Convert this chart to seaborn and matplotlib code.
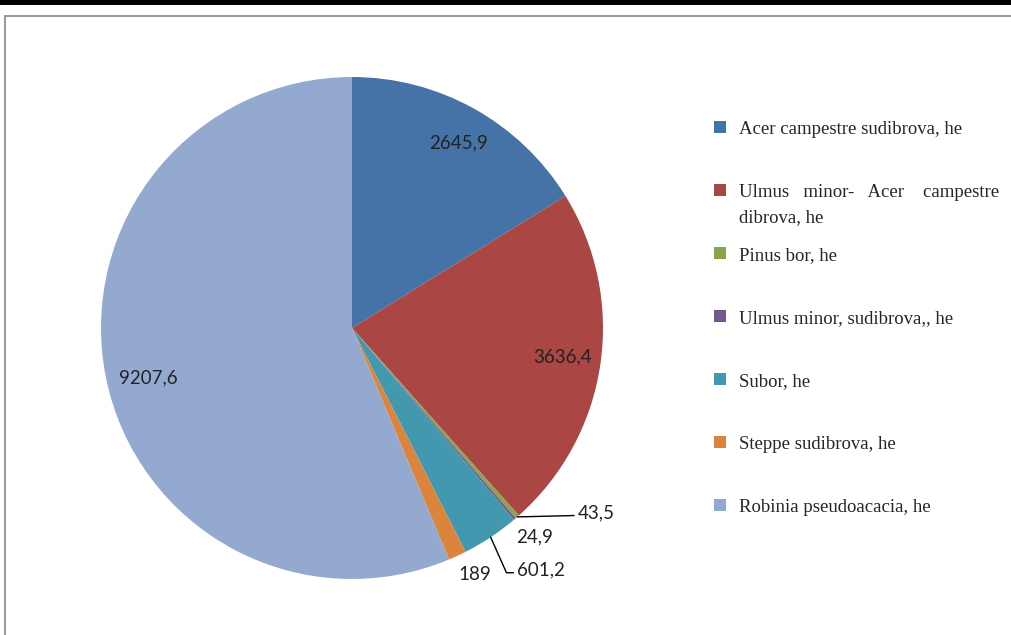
import matplotlib
matplotlib.use("Agg")
import matplotlib.pyplot as plt
import matplotlib.patches as mpatches
from matplotlib.lines import Line2D
import numpy as np
import seaborn as sns

# data
categories = [
    "Acer campestre sudibrova, he",
    "Ulmus   minor-   Acer    campestre",
    "Pinus bor, he",
    "Ulmus minor, sudibrova,, he",
    "Subor, he",
    "Steppe sudibrova, he",
    "Robinia pseudoacacia, he",
]
wrapped = {1: "dibrova, he"}  # second line of the long legend entry
values = [2645.9, 3636.4, 43.5, 24.9, 601.2, 189, 9207.6]
value_labels = ["2645,9", "3636,4", "43,5", "24,9", "601,2", "189", "9207,6"]
colors = ["#4572A7", "#AA4643", "#89A54E", "#71588F", "#4198AF", "#DB843D", "#93A9CF"]

sns.set_style("white")
plt.rcParams["font.family"] = ["Lato", "DejaVu Sans"]

W, H = 1011, 635
fig = plt.figure(figsize=(W / 100, H / 100), dpi=100)

# pie axes: centre (352, 328) px, radius 251 px
cx, cy, r = 352, 328, 251
ax = fig.add_axes([(cx - r) / W, (H - cy - r) / H, 2 * r / W, 2 * r / H])
wedges, _ = ax.pie(values, colors=colors, startangle=90, counterclock=False,
                   radius=1, wedgeprops=dict(linewidth=0))
ax.set_xlim(-1, 1)
ax.set_ylim(-1, 1)
ax.set_aspect("equal")
ax.axis("off")

# label offsets (pixels) from the outer middle point of each wedge
offsets = [(-16, -34), (-38, 7), (60, 4), (20, -18), (26, -33), (17, -19), (42, 0)]
leaders = [None, None, "straight", None, "bent", None, None]

for w, lab, off, lead in zip(wedges, value_labels, offsets, leaders):
    ang = np.deg2rad((w.theta1 + w.theta2) / 2)
    xy = (np.cos(ang), np.sin(ang))
    if lead is None:
        ax.annotate(lab, xy=xy, xytext=off, textcoords="offset pixels",
                    ha="center", va="center", fontsize=13.5, color="#222222")
    else:
        cs = "arc3" if lead == "straight" else "angle,angleA=0,angleB=114,rad=0"
        ax.annotate(lab, xy=xy, xytext=off, textcoords="offset pixels",
                    ha="left", va="center", fontsize=13.5, color="#222222",
                    arrowprops=dict(arrowstyle="-", color="black", lw=1.0,
                                    shrinkA=0, shrinkB=0, relpos=(0, 0.35),
                                    connectionstyle=cs))

legend_font = {"family": ["Liberation Serif"], "size": 13.5}
handles = [mpatches.Patch(facecolor=c, edgecolor="none") for c in colors]
leg = fig.legend(handles, categories, loc="upper left",
                 bbox_to_anchor=(714 / W, 1 - 121 / H), frameon=False,
                 prop=legend_font,
                 handlelength=0.62, handleheight=0.62, handletextpad=0.7,
                 labelspacing=2.45, borderpad=0, borderaxespad=0)

# continuation lines of wrapped entries, set under their first line
fig.canvas.draw()
for i, extra in wrapped.items():
    bb = leg.get_texts()[i].get_window_extent()
    fig.text(bb.x0 / W, (bb.y0 - 25) / H, extra, fontdict=legend_font,
             ha="left", va="bottom")

# page frame
fig.add_artist(mpatches.Rectangle((0, 1 - 5 / H), 1, 5 / H, transform=fig.transFigure,
                                  facecolor="black", edgecolor="none"))
fig.add_artist(Line2D([5 / W, 1], [1 - 16 / H, 1 - 16 / H], transform=fig.transFigure,
                      color="#888888", lw=1.2))
fig.add_artist(Line2D([5 / W, 5 / W], [0, 1 - 16 / H], transform=fig.transFigure,
                      color="#888888", lw=1.2))

fig.savefig("out.png", dpi=100)
